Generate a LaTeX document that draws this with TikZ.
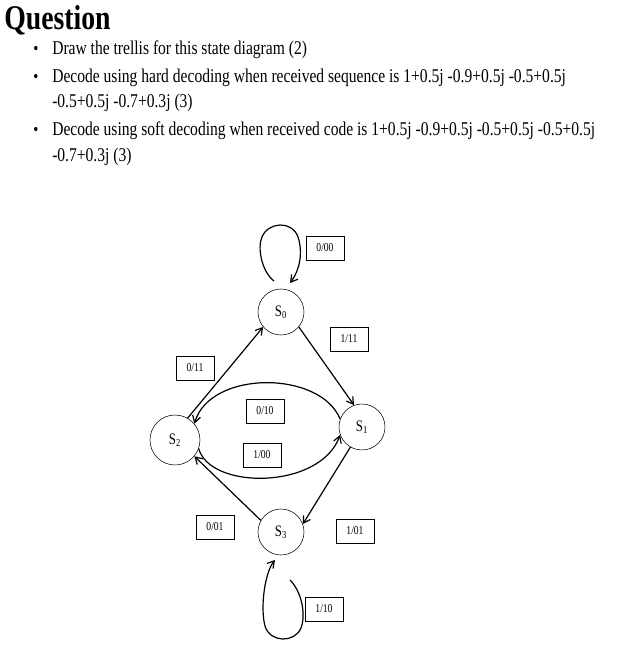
\documentclass[tikz,border=0pt]{standalone}
\usepackage{fontspec}
\setmainfont{Liberation Serif}[FakeStretch=0.8]
\usetikzlibrary{arrows.meta}
\begin{document}
\begin{tikzpicture}[x=0.75pt,y=-0.75pt,
  st/.style={circle,draw,minimum size=46*0.75pt,inner sep=0pt,font=\fontsize{12}{13}\selectfont},
  lab/.style={draw,minimum width=38*0.75pt,minimum height=24*0.75pt,inner sep=0pt,font=\fontsize{9}{10}\selectfont},
  ar/.style={-{Straight Barb[length=5pt,width=6pt]},line width=0.9pt},
  txt/.style={anchor=west,inner sep=0pt,font=\fontsize{14.6}{16}\selectfont},
  bul/.style={inner sep=0pt,font=\fontsize{13.5}{15}\selectfont}]
\useasboundingbox (0,0) rectangle (620,665);
\node[anchor=west,inner sep=0pt,font=\fontsize{26}{28}\bfseries\selectfont] (title) at (4,20) {Question};
\node[bul] (b1) at (36,50) {•};
\node[txt] (t1) at (52,50) {Draw the trellis for this state diagram (2)};
\node[bul] (b2) at (36,78) {•};
\node[txt] (t2) at (52,78) {Decode using hard decoding when received sequence is 1+0.5j -0.9+0.5j -0.5+0.5j};
\node[txt] (t2b) at (52,103) {-0.5+0.5j -0.7+0.3j (3)};
\node[bul] (b3) at (36,131) {•};
\node[txt] (t3) at (52,131) {Decode using soft decoding when received code is 1+0.5j -0.9+0.5j -0.5+0.5j -0.5+0.5j};
\node[txt] (t3b) at (52,157) {-0.7+0.3j (3)};

\node[st] (s0) at (281,312) {S\textsubscript{0}};
\node[st] (s1) at (362,427) {S\textsubscript{1}};
\node[st,minimum size=50*0.75pt] (s2) at (175,440) {S\textsubscript{2}};
\node[st] (s3) at (281,532) {S\textsubscript{3}};

\node[lab] (l00) at (325,248) {0/00};
\node[lab] (l111) at (349,339) {1/11};
\node[lab] (l011) at (195,368) {0/11};
\node[lab] (l010) at (265,411) {0/10};
\node[lab] (l100) at (262,455) {1/00};
\node[lab] (l001) at (215,527) {0/01};
\node[lab] (l101) at (355,531) {1/01};
\node[lab] (l110) at (324,609) {1/10};

\coordinate (p1) at (274,281);
\coordinate (p2) at (290,283);
\draw[ar] (p1) .. controls (262,272) and (257,248) .. (262,237) .. controls (268,222) and (292,220) .. (298,237) .. controls (303,252) and (300,270) .. (p2);
\coordinate (q1) at (290,580);
\coordinate (q2) at (275,560);
\draw[ar] (q1) .. controls (302,592) and (306,615) .. (301,628) .. controls (295,643) and (270,643) .. (265,626) .. controls (260,607) and (265,572) .. (q2);
\draw[ar] (s0.-40) -- (s1.110);
\draw[ar] (s2.60) -- (s0.220);
\draw[ar] (s1.-120) -- (s3.20);
\draw[ar] (s3.150) -- (s2.-40);
\draw[ar] (s1.160) .. controls (320,370) and (210,370) .. (s2.40);
\draw[ar] (s2.-20) .. controls (210,490) and (320,490) .. (s1.-160);
\end{tikzpicture}
\end{document}
